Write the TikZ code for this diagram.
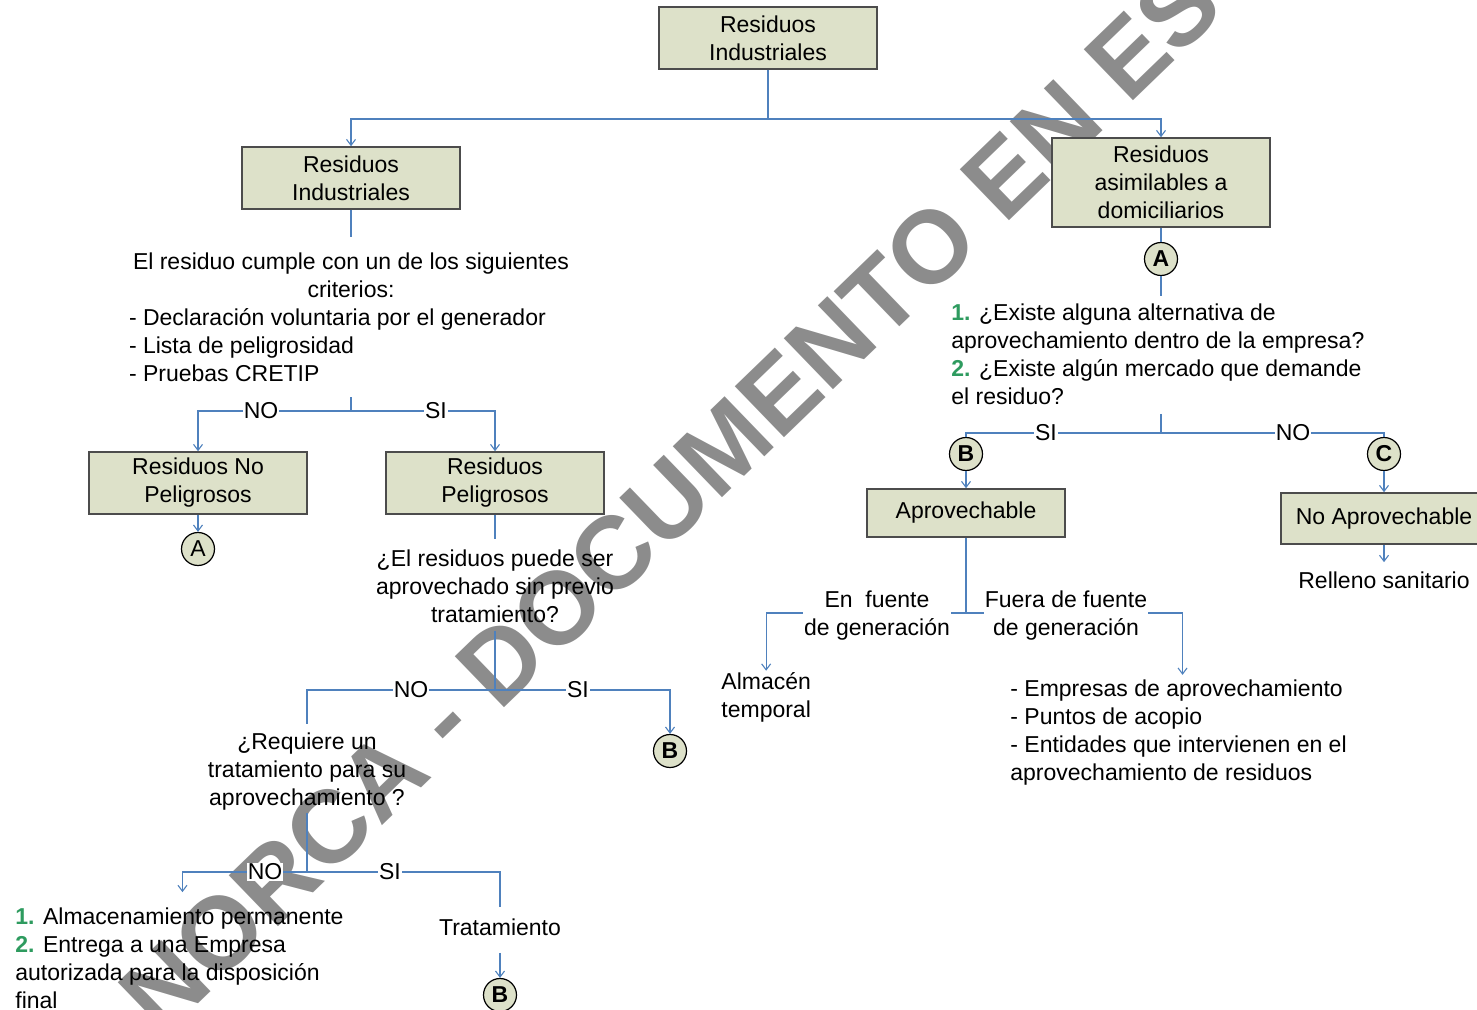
\documentclass[tikz,border=0pt]{standalone}
\usepackage{fontspec}
\setmainfont{Liberation Sans}
\usepackage{xcolor}
\usetikzlibrary{arrows.meta}
\definecolor{cajaverde}{RGB}{221,225,201}
\definecolor{lineazul}{RGB}{79,129,189}
\definecolor{numverde}{RGB}{46,155,95}
\setlength{\parindent}{0pt}
\newcommand{\letra}{\fontsize{11.5}{14}\selectfont}
\newcommand{\nverde}[1]{\textcolor{numverde}{\textbf{#1}}}
\newcommand{\centrada}[1]{\multicolumn{1}{@{}c@{}}{#1}}

\begin{document}
\begin{tikzpicture}[x=0.5pt,y=-0.5pt,font=\letra,
    caja/.style={draw=black!70,fill=cajaverde,line width=0.75pt,align=center,minimum width=109pt,minimum height=31pt,inner sep=1pt},
    circ/.style={circle,draw=black,fill=cajaverde,line width=0.6pt,minimum size=16.5pt,inner sep=0pt},
    circb/.style={circ,font=\letra\bfseries},
    txt/.style={inner sep=0pt},
    rot/.style={fill=white,inner sep=0.6pt},
    conn/.style={draw=lineazul,line width=0.55pt},
    flecha/.style={conn,-{Straight Barb[length=3pt,width=4.5pt]}}]
    \clip (0,0) rectangle (1477,1010);
    \node[rotate=44,font=\fontsize{51.5}{60}\selectfont\bfseries,text=black!45] (marca) at (670,499) {NORCA - DOCUMENTO EN ES};

    \node[caja] (ind) at (768,38) {Residuos\\Industriales};
    \node[caja] (ri) at (351,178) {Residuos\\Industriales};
    \node[caja,minimum height=44.5pt] (rad) at (1161,182.5) {Residuos\\asimilables a\\domiciliarios};
    \node[caja] (rnp) at (198,483) {Residuos No\\Peligrosos};
    \node[caja] (rp) at (495,483) {Residuos\\Peligrosos};
    \node[caja,minimum width=99pt,minimum height=24pt] (apr) at (966,513) {Aprovechable};
    \node[caja,minimum width=103pt,minimum height=25.5pt] (napr) at (1384,518.5) {No Aprovechable};

    \node[circ] (a1) at (198,549) {A};
    \node[circb] (a2) at (1161,259) {A};
    \node[circb] (b1) at (966,454) {B};
    \node[circb] (c1) at (1384,454) {C};
    \node[circb] (b2) at (670,751) {B};
    \node[circb] (b3) at (500,995) {B};

    \node[txt] (crit) at (351,320) {\begin{tabular}{@{}l@{}}\centrada{El residuo cumple con un de los siguientes}\\\centrada{criterios:}\\\hspace*{-2pt}- Declaración voluntaria por el generador\\\hspace*{-2pt}- Lista de peligrosidad\\\hspace*{-2pt}- Pruebas CRETIP\end{tabular}};
    \node[txt,align=center] (q1) at (495,586.5) {¿El residuos puede ser\\aprovechado sin previo\\tratamiento?};
    \node[txt,align=center] (q2) at (307,772) {¿Requiere un\\tratamiento para su\\aprovechamiento ?};
    \node[txt,align=left,anchor=west] (alm) at (15,958.5) {\nverde{1.} Almacenamiento permanente\\\nverde{2.} Entrega a una Empresa\\autorizada para la disposición\\final};
    \node[txt] (trat) at (500,927) {Tratamiento};
    \node[txt,align=left,anchor=west] (qa) at (951,354.5) {\nverde{1.} ¿Existe alguna alternativa de\\aprovechamiento dentro de la empresa?\\\nverde{2.} ¿Existe algún mercado que demande\\el residuo?};
    \node[txt] (rell) at (1384,580) {Relleno sanitario};
    \node[txt,align=left,anchor=west] (almt) at (721,697) {Almacén\\temporal};
    \node[txt,align=left,anchor=west] (emp) at (1010,733) {- Empresas de aprovechamiento\\- Puntos de acopio\\- Entidades que intervienen en el\\aprovechamiento de residuos};

    \coordinate (j1) at (768,119);
    \coordinate (j2) at (351,411);
    \coordinate (j3) at (495,690);
    \coordinate (j4) at (307,872);
    \coordinate (j5) at (1161,433);
    \coordinate (j6) at (966,613);

    \draw[conn] (ind) -- (j1);
    \draw[flecha] (j1) -| (ri);
    \draw[flecha] (j1) -| (rad);

    \draw[conn,shorten >=6.2pt] (ri) -- (crit);
    \draw[conn,shorten <=3.5pt] (crit.south -| j2) -- (j2);
    \draw[flecha] (j2) -| (rnp);
    \draw[flecha] (j2) -| (rp);
    \node[rot] (no1) at (261,411) {NO};
    \node[rot] (si1) at (436,411) {SI};
    \draw[flecha] (rnp) -- (a1);

    \draw[conn,shorten >=5.25pt] (rp) -- (q1);
    \draw[conn,shorten <=3.75pt] (q1) -- (j3);
    \draw[conn,shorten >=4.25pt] (j3) -| (q2);
    \draw[flecha] (j3) -| (b2);
    \node[rot] (no2) at (411,690) {NO};
    \node[rot] (si2) at (578,690) {SI};

    \draw[conn,shorten <=0.75pt] (q2) -- (j4);
    \draw[flecha,shorten >=7.75pt] (j4) -| ([xshift=1.5pt]alm.north);
    \draw[conn,shorten >=5.5pt] (j4) -| (trat);
    \node[rot] (no3) at (265,872) {NO};
    \node[rot] (si3) at (390,872) {SI};
    \draw[flecha,shorten <=8.5pt] (trat) -- (b3);

    \draw[conn] (rad) -- (a2);
    \draw[conn,shorten >=3.75pt] (a2) -- (a2 |- qa.north);
    \draw[conn,shorten <=4.25pt] (qa.south -| j5) -- (j5);
    \draw[conn] (j5) -| (b1);
    \draw[conn] (j5) -| (c1);
    \node[rot] (si4) at (1046,433) {SI};
    \node[rot] (no4) at (1293,433) {NO};
    \draw[flecha] (b1) -- (apr);
    \draw[flecha] (c1) -- (napr);
    \draw[flecha,shorten >=4.5pt] (napr) -- (rell);

    \draw[conn] (apr) -- (j6);
    \draw[flecha,shorten >=0.5pt] (j6) -| (almt);
    \draw[flecha,shorten >=2.5pt] (j6) -| ([xshift=2pt]emp.north);
    \node[rot,align=center] (enf) at (877,616) {En\ \ fuente\\de generación};
    \node[rot,align=center] (fuera) at (1066,616) {Fuera de fuente\\de generación};
\end{tikzpicture}
\end{document}
